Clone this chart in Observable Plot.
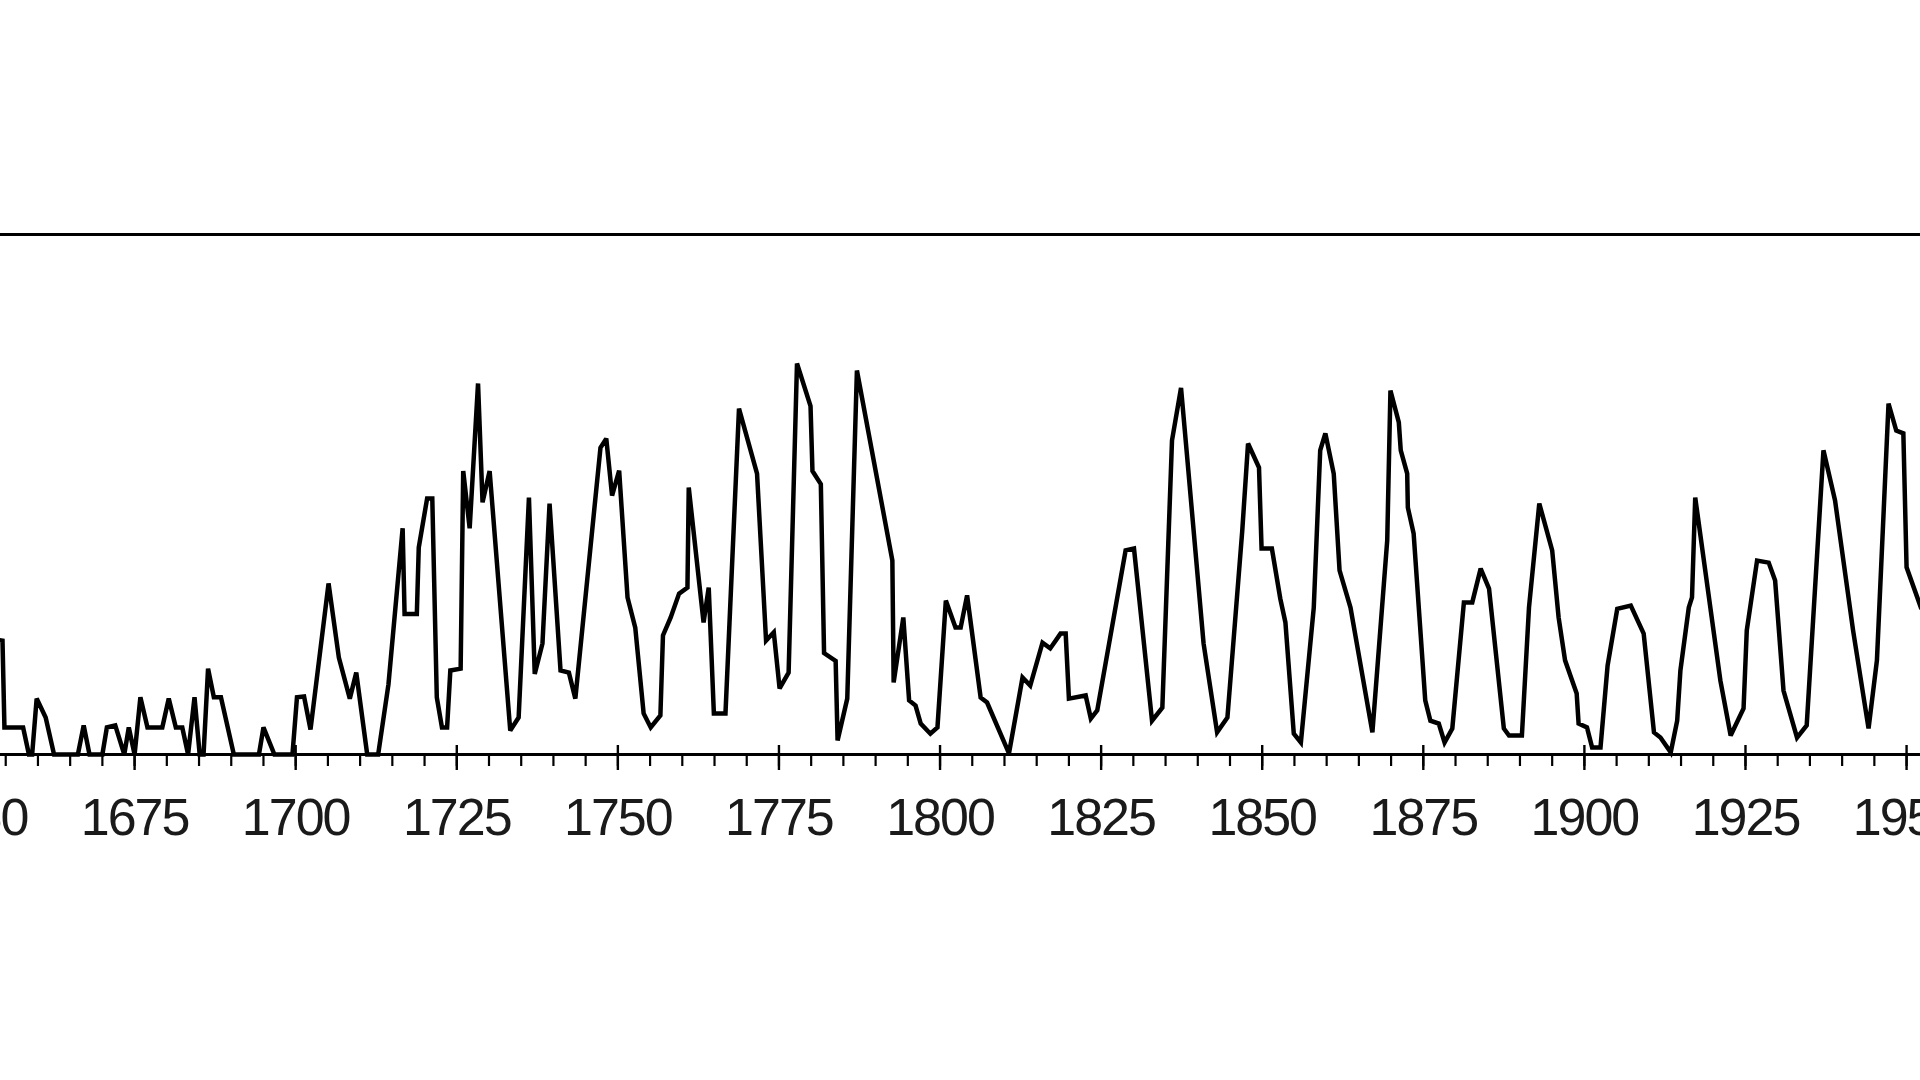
<!DOCTYPE html>
<html>
<head>
<meta charset="utf-8">
<script src="https://cdn.jsdelivr.net/npm/d3@7"></script>
<script src="https://cdn.jsdelivr.net/npm/@observablehq/plot@0.6"></script>
<style>
  html, body { margin: 0; padding: 0; background: #fff; }
  body { width: 1920px; height: 1080px; overflow: hidden; }
  #chart { width: 1920px; height: 1080px; overflow: hidden; position: relative; }
  #chart svg { display: block; max-width: none !important; position: absolute; top: 0; }
  #chart svg text { letter-spacing: -2px; }
</style>
</head>
<body>
<div id="chart"></div>
<script>
// Year positions of the drawn vertices
const years = [
  1654.0, 1654.5, 1654.8, 1657.7, 1658.6, 1659.1, 1659.8, 1661.2, 1662.5, 1666.2,
  1667.1, 1668.0, 1670.0, 1670.7, 1672.0, 1673.4, 1674.1, 1675.0, 1675.9, 1677.0,
  1679.3, 1680.3, 1681.4, 1682.4, 1683.3, 1684.3, 1685.1, 1685.7, 1686.4, 1687.3,
  1688.4, 1690.4, 1694.3, 1695.0, 1696.7, 1699.5, 1700.2, 1701.3, 1702.3, 1705.1,
  1706.7, 1708.4, 1709.4, 1711.1, 1712.8, 1714.4, 1716.6, 1716.9, 1718.8, 1719.1,
  1720.4, 1721.2, 1721.9, 1722.7, 1723.5, 1724.0, 1725.6, 1726.0, 1727.0, 1728.3,
  1729.0, 1730.1, 1733.3, 1734.6, 1736.2, 1737.1, 1738.3, 1739.4, 1741.1, 1742.4,
  1743.4, 1747.3, 1748.2, 1749.1, 1750.2, 1751.5, 1752.7, 1754.0, 1755.1, 1756.6,
  1757.0, 1758.2, 1759.5, 1760.8, 1761.0, 1763.3, 1764.1, 1764.9, 1766.7, 1768.8,
  1771.6, 1773.0, 1774.2, 1775.1, 1776.5, 1777.8, 1779.9, 1780.2, 1781.5, 1782.0,
  1783.8, 1784.1, 1785.6, 1787.1, 1792.6, 1792.8, 1794.3, 1795.2, 1796.2, 1797.0,
  1798.5, 1799.6, 1800.9, 1802.4, 1803.2, 1804.2, 1806.3, 1807.3, 1810.7, 1812.8,
  1814.0, 1815.9, 1817.1, 1818.7, 1819.5, 1820.0, 1822.6, 1823.4, 1824.4, 1828.8,
  1830.1, 1832.9, 1834.5, 1836.0, 1837.4, 1838.3, 1840.9, 1843.0, 1844.6, 1846.9,
  1847.8, 1849.5, 1849.9, 1851.5, 1852.8, 1853.6, 1854.9, 1856.0, 1858.0, 1859.0,
  1859.8, 1861.1, 1862.0, 1863.7, 1867.1, 1869.4, 1869.9, 1871.2, 1871.5, 1872.5,
  1872.6, 1873.5, 1875.3, 1876.1, 1877.4, 1878.3, 1879.5, 1881.3, 1882.6, 1883.9,
  1885.2, 1887.5, 1888.3, 1890.3, 1891.4, 1893.0, 1895.0, 1896.0, 1897.0, 1898.8,
  1899.1, 1900.4, 1901.2, 1902.5, 1903.6, 1905.1, 1907.2, 1909.2, 1910.8, 1911.8,
  1913.4, 1914.4, 1914.9, 1916.2, 1916.7, 1917.2, 1921.1, 1922.7, 1924.7, 1925.2,
  1926.8, 1928.6, 1929.6, 1930.9, 1933.0, 1934.5, 1937.1, 1938.9, 1941.7, 1944.1,
  1945.4, 1947.2, 1948.4, 1949.5, 1950.0, 1952.3
];
// Sunspot values at those vertices
const values = [
  44, 43.8, 10.4, 10.4, 0, 0, 21.5, 14.2, 0, 0,
  11.2, 0, 0, 10.4, 11.2, 0, 10.4, 0, 22, 10.4,
  10.4, 21.5, 10.4, 10.4, 0, 22, 0, 0, 33, 22,
  22, 0, 0, 10.4, 0, 0, 22, 22.3, 9.6, 65.8,
  37.3, 21.5, 31.5, 0, 0, 27, 87, 54, 54, 79.6,
  98.5, 98.5, 22, 10.4, 10.4, 32.3, 33, 109, 87, 142.7,
  97, 109, 9.2, 14.2, 98.8, 31, 42.7, 96.5, 32.3, 31.5,
  21.5, 118, 121.5, 99.6, 109.2, 60.4, 48.8, 15.8, 10.4, 15,
  45.8, 52.7, 61.9, 64.2, 102.7, 50.8, 64.2, 15.8, 15.8, 133,
  108, 43.8, 47, 25.4, 31.5, 150.4, 134, 109, 104, 39,
  36, 5.4, 21.5, 147.7, 74.6, 27.7, 52.7, 20.8, 18.8, 11.9,
  8, 10.4, 59.2, 48.8, 48.8, 61.2, 21.9, 20, 0.4, 29.6,
  26.5, 43, 40.8, 46.5, 46.5, 21.5, 22.7, 13.8, 17, 78.5,
  79.2, 13, 18, 120.8, 141, 115.8, 42.7, 8.5, 14.2, 86,
  119.6, 110.4, 79.2, 79.2, 60, 50.8, 8, 4.6, 56.5, 117,
  123.5, 108, 70.8, 56.5, 8.5, 82.3, 140, 127.7, 117, 108,
  95, 85, 20.8, 13, 11.9, 4.6, 10, 58.5, 58.5, 71.5,
  63.8, 10, 7.3, 7.3, 56.5, 96.5, 78.5, 52.7, 36.2, 23.5,
  11.9, 10.4, 2.7, 2.7, 34.2, 56, 57.3, 46.5, 8.5, 6.5,
  0.8, 13, 32.3, 56.5, 60.4, 98.8, 28.5, 7.3, 17.7, 47.7,
  74.6, 73.8, 66.9, 24.6, 6.5, 11.2, 117, 97.7, 47.7, 10,
  36.2, 135, 124.6, 123.5, 72, 56
];
const minorTicks = d3.range(1650, 1961, 5);
const majorTicks = d3.range(1650, 1961, 25);
const tickLabels = majorTicks.map(String);
const yTop = 200;

const data = years.map((year, i) => ({year, value: values[i]}));

// Layout: the chart is a crop of a wider figure
const pxPerYear = (1906 - 134) / 275;
const x1650 = 134 - 25 * pxPerYear;   // page x of 1650
const mLeft = 40, mRight = 40;
const xDomain = [1650, 1960];
const W = mLeft + (xDomain[1] - xDomain[0]) * pxPerYear + mRight;
const H = 1080, mTop = 234, mBottom = H - 754;
const plotH = H - mTop - mBottom;

const chart = Plot.plot({
  width: W,
  height: H,
  marginLeft: mLeft,
  marginRight: mRight,
  marginTop: mTop,
  marginBottom: mBottom,
  style: {fontFamily: "'Liberation Sans', Arial, sans-serif", background: "#fff", color: "#000", maxWidth: "none", overflow: "visible"},
  x: {domain: xDomain, label: null},
  y: {domain: [0, yTop], axis: null, label: null},
  marks: [
    Plot.ruleY([yTop], {stroke: "#000", strokeWidth: 3}),
    Plot.ruleX(minorTicks, {x: d => d, stroke: "#000", strokeWidth: 2.2, insetTop: plotH, insetBottom: -12}),
    Plot.ruleX(majorTicks, {x: d => d, stroke: "#000", strokeWidth: 2.4, insetTop: plotH - 9, insetBottom: -16}),
    Plot.ruleY([0], {stroke: "#000", strokeWidth: 3}),
    Plot.axisX({ticks: majorTicks, tickSize: 0, tickPadding: 44, fontSize: 52, label: null,
      tickFormat: d => tickLabels[majorTicks.indexOf(d)], fill: "#1a1a1a"}),
    Plot.line(data, {x: "year", y: "value", stroke: "#000", strokeWidth: 4.5,
      strokeLinejoin: "miter", strokeMiterlimit: 3, strokeLinecap: "butt"})
  ]
});
chart.style.left = (x1650 - mLeft) + "px";
chart.setAttribute("width", W);
chart.setAttribute("height", H);
document.getElementById("chart").appendChild(chart);
</script>
</body>
</html>
